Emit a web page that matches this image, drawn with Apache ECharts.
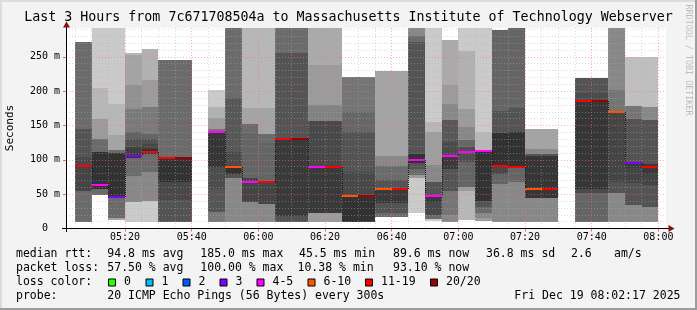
<!DOCTYPE html>
<html><head><meta charset="utf-8">
<script src="https://cdn.jsdelivr.net/npm/echarts@6/dist/echarts.min.js"></script>
<style>html,body{margin:0;padding:0;background:#f3f3f3}#c{width:697px;height:310px}</style>
</head><body><div id="c"></div>
<script>
// ---------- data ----------
const colEnd = ['05:10','05:15','05:20','05:25','05:30','05:35','05:40','05:45','05:50','05:55',
  '06:00','06:05','06:10','06:15','06:20','06:25','06:30','06:35','06:40','06:45',
  '06:50','06:55','07:00','07:05','07:10','07:15','07:20','07:25','07:30','07:35',
  '07:40','07:45','07:50','07:55','08:00'];
// smoke band boundaries per 5-min column (ms, bottom -> top)
const bounds = [
  [10,54,92,104,145,272],
  [49,58,112,131,160,204,300],
  [13,16,46,110,114,136,182,300],
  [10,38,77,103,106,118,131,140,174,209,252,256],
  [10,40,83,109,116,123,131,138,177,216,261],
  [10,41,68,104,246],
  [10,41,68,104,246],
  [],
  [10,24,58,90,141,145,161,177,202],
  [10,73,80,90,112,190,300],
  [10,39,74,139,152,175,300],
  [10,36,66,124,137,175,300],
  [10,18,130,255,300],
  [10,18,130,255,300],
  [10,22,89,156,180,238,300],
  [10,22,89,156,180,238,300],
  [10,48,82,141,170,221],
  [10,48,82,141,170,221],
  [17,22,37,58,71,91,105,230],
  [17,22,37,58,71,91,105,230],
  [22,73,78,86,95,109,272,281,300],
  [11,14,20,39,48,68,93,141,155,300],
  [10,20,55,87,106,126,158,182,209,274],
  [12,55,60,97,118,129,148,174,259,300],
  [11,16,22,31,40,114,141,300],
  [10,65,80,91,139,171,289],
  [10,68,89,140,175,300],
  [9,44,105,109,116,145],
  [9,44,105,109,116,145],
  [],
  [10,52,58,185,198,219],
  [10,52,58,185,198,219],
  [9,52,68,169,201,300],
  [10,34,66,88,96,159,179,250],
  [10,32,63,80,94,158,177,250]
];
// smoke rank of each band (1 = outermost pings, 10 = around the median)
const levels = [
  [7,9,8.8,8.2,7],
  [7,10,7,4.5,3,2],
  [4,7,10,7,4,3,2],
  [2,5.5,7,10,9.3,8.3,7.4,6.2,5,4,3],
  [2,5.5,7,10,9,8.3,7.3,6.2,4.5,3.3],
  [8.2,8.8,10,7],
  [8.2,8.8,10,7],
  [],
  [6.2,8.1,8.6,9.8,6.5,4.5,3.3,2],
  [5.5,8.2,10,8.7,8,7],
  [5.5,9,7.3,7,4,3],
  [5.5,9,7.3,7,4,3],
  [8.2,9.6,8.2,7],
  [8.2,9.6,8.2,7],
  [4.5,9.6,8.8,5.8,4.5,3.7],
  [4.5,9.6,8.8,5.8,4.5,3.7],
  [10,8.8,8.2,7.2,6.5],
  [10,8.8,8.2,7.2,6.5],
  [7,8.2,9.6,8.2,7,5.5,4],
  [7,8.2,9.6,8.2,7,5.5,4],
  [2,4.5,7,8.2,10,8.2,7,5.5],
  [2,7,8.8,9.6,8.2,5.5,4.3,3,2],
  [5.5,6.5,8.2,9.6,8.7,8,5.5,4.5,3.7],
  [3,4.5,7.3,8.5,7.2,5.5,4.5,3.3,2],
  [4.5,5.5,7,8.2,10,3,2],
  [5.5,7.3,8.8,10,8.2,7.3],
  [5.5,7.3,10,8.2,7.3],
  [5.5,9.8,8.2,5.5,4],
  [5.5,9.8,8.2,5.5,4],
  [],
  [7.3,8.7,9.8,8.7,8.2],
  [7.3,8.7,9.8,8.7,8.2],
  [5.5,8.2,9,6.5,5.5],
  [5.5,8.2,9,9.6,8.2,6.5,2.6],
  [5.5,8.2,9,9.6,8.2,5.5,2.6]
];
const median = [91.5,64,46,105.5,112,103,103,null,140,90,68,67,130,130,89,89,48,48,58,58,
  99.6,48,106,111,113,91.5,90.2,58,58,null,185,185,169,96,90.2];
const lossCat = [6,4,3,3,6,6,7,null,4,5,4,6,6,7,4,6,5,7,5,6,4,4,4,4,4,6,6,5,6,null,6,7,5,3,6];
const lossLabels = ['0','1','2','3','4-5','6-10','11-19','20/20'];
const xMajor = ['05:20','05:40','06:00','06:20','06:40','07:00','07:20','07:40','08:00'];
const yMajor = [0,50,100,150,200,250];
const rangeStart = '05:02:17', rangeEnd = '08:02:17';
const statsRtt = ['94.8 ms avg','185.0 ms max','45.5 ms min','89.6 ms now','36.8 ms sd','2.6','am/s'];
const statsLoss = ['57.50 % avg','100.00 % max','10.38 % min','93.10 % now'];
const probeText = '20 ICMP Echo Pings (56 Bytes) every 300s';
const stampText = 'Fri Dec 19 08:02:17 2025';
const titleText = 'Last 3 Hours from 7c671708504a to Massachusetts Institute of Technology Webserver';

// ---------- styles ----------
const lossColors = ['#26ff00','#00b8ff','#0059ff','#7e00ff','#ff00fe','#ff5500','#ff0000','#a10000'];
const MONO = '"DejaVu Sans Mono", monospace';
const GRID = 'rgba(175,175,175,0.45)';
const MGRID = 'rgba(255,110,110,0.55)';
const STEP = 5;

function toMin(s){ const p = s.split(':').map(Number); return p[0]*60 + p[1] + (p[2]||0)/60; }
function pad(n){ return (n<10?'0':'')+n; }
const tMin = toMin(rangeStart), tMax = toMin(rangeEnd);
const majorX = xMajor.map(toMin);
const minorX = [];
for (let v = Math.ceil(tMin/5)*5; v <= tMax; v += 5) if (majorX.indexOf(v) < 0) minorX.push(v);
const minorY = [];
for (let v = 10; v < 292; v += 10) if (v % 50) minorY.push(v);

const smokeData = [];
colEnd.forEach((t, k) => {
  const b = bounds[k], l = levels[k];
  for (let j = 0; j < l.length; j++) smokeData.push([toMin(t), b[j], b[j+1], l[j]]);
});
const medData = [];
colEnd.forEach((t, k) => {
  if (median[k] == null) return;
  medData.push([toMin(t), median[k], lossCat[k], k > 0 && median[k-1] != null ? median[k-1] : NaN]);
});

function renderSmoke(params, api){
  const t = api.value(0), lo = api.value(1), hi = api.value(2), lv = api.value(3);
  const a = api.coord([t - STEP, hi]), b = api.coord([t, lo]);
  const x0 = Math.round(a[0]), x1 = Math.round(b[0]);
  const y0 = Math.round(a[1]), y1 = Math.round(b[1]);
  const cs = params.coordSys;
  const r = echarts.graphic.clipRectByRect({x:x0, y:y0, width:x1-x0, height:y1-y0},
    {x:cs.x, y:cs.y, width:cs.width, height:cs.height});
  if (!r) return;
  const g = Math.round(19*(10-lv)+50);
  return {type:'rect', shape:r, style:{fill:'rgb('+g+','+g+','+g+')'}};
}
function renderMedian(params, api){
  const t = api.value(0), m = api.value(1), c = api.value(2), pm = api.value(3);
  const a = api.coord([t - STEP, m]), b = api.coord([t, m]);
  const x0 = Math.round(a[0]), x1 = Math.round(b[0]), yc = Math.round(a[1]);
  const children = [];
  if (!isNaN(pm)) {
    const yp = Math.round(api.coord([t - STEP, pm])[1]);
    children.push({type:'line', shape:{x1:x0+0.5, y1:Math.min(yp,yc), x2:x0+0.5, y2:Math.max(yp,yc)},
      style:{stroke:'#1a1a1a', lineWidth:1, lineDash:[1,1]}});
  }
  children.push({type:'rect', shape:{x:x0, y:yc-1, width:x1-x0, height:2}, style:{fill:lossColors[c]}});
  return {type:'group', children};
}

// ---------- decorations ----------
const graphics = [];
function txt(x, y, s, opt){
  graphics.push(Object.assign({type:'text', x:x, y:y, z:10, style:Object.assign({text:s, fill:'#000',
    font:'11.5px ' + MONO, verticalAlign:'middle', align:'left'}, (opt||{}).style||{})}, opt && opt.rotation!=null ? {rotation:opt.rotation} : {}));
}
// frame
graphics.push({type:'rect', z:1, shape:{x:0, y:0, width:697, height:2}, style:{fill:'#dcdcdc'}});
graphics.push({type:'rect', z:1, shape:{x:0, y:0, width:2, height:310}, style:{fill:'#dcdcdc'}});
graphics.push({type:'rect', z:1, shape:{x:0, y:308, width:697, height:2}, style:{fill:'#9c9c9c'}});
graphics.push({type:'rect', z:1, shape:{x:695, y:0, width:2, height:310}, style:{fill:'#9c9c9c'}});
// title
txt(348.5, 18, titleText, {style:{font:'13.3px ' + MONO, align:'center'}});
// vertical credit
txt(688, 60, 'RRDTOOL / TOBI OETIKER', {rotation:-Math.PI/2, style:{font:'8.4px ' + MONO, align:'center', fill:'#bdbdbd'}});
// y name
txt(10.5, 128, 'Seconds', {rotation:Math.PI/2, style:{font:'11px ' + MONO, align:'center'}});
// axis arrows and extensions
graphics.push({type:'line', z:10, shape:{x1:62, y1:228.5, x2:669, y2:228.5}, style:{stroke:'#000', lineWidth:1}});
graphics.push({type:'line', z:10, shape:{x1:66.5, y1:232, x2:66.5, y2:26}, style:{stroke:'#000', lineWidth:1}});
graphics.push({type:'polygon', z:11, shape:{points:[[66.5,21.5],[63,27.5],[70,27.5]]}, style:{fill:'#8b1010'}});
graphics.push({type:'polygon', z:11, shape:{points:[[674.5,228.5],[668.5,225],[668.5,232]]}, style:{fill:'#8b1010'}});
// legend rows
const rowY = [254.3, 268.3, 282.3, 296.3];
txt(16, rowY[0], 'median rtt:');
[107.3, 200.3, 299, 393, 486, 571, 614].forEach((x, i) => txt(x, rowY[0], statsRtt[i]));
txt(16, rowY[1], 'packet loss:');
[107.3, 200.3, 297.5, 393].forEach((x, i) => txt(x, rowY[1], statsLoss[i]));
txt(16, rowY[2], 'loss color:');
[108, 145.5, 182.5, 219.5, 256.5, 307.5, 365, 430].forEach((x, i) => {
  graphics.push({type:'rect', z:10, shape:{x:x+0.5, y:279, width:7, height:7}, style:{fill:lossColors[i], stroke:'#000', lineWidth:1}});
  txt(x + 16, rowY[2], lossLabels[i]);
});
txt(16, rowY[3], 'probe:');
txt(107.3, rowY[3], probeText);
txt(680.5, rowY[3], stampText, {style:{align:'right'}});

const chart = echarts.init(document.getElementById('c'), null, {renderer:'canvas'});
chart.setOption({
  animation:false,
  backgroundColor:'#f3f3f3',
  grid:{left:66, top:28, width:600, height:200.5, show:true, backgroundColor:'#ffffff', borderWidth:0},
  xAxis:[
    {type:'value', min:tMin, max:tMax, position:'bottom', z:3,
      axisLine:{show:false},
      axisTick:{show:true, customValues:majorX, length:3, lineStyle:{color:'rgba(255,60,60,0.8)'}},
      axisLabel:{customValues:majorX, margin:4, fontFamily:MONO, fontSize:10, color:'#000',
        formatter:v => pad(Math.floor(v/60)) + ':' + pad(Math.round(v%60))},
      splitLine:{show:true, lineStyle:{color:MGRID, type:[1,2], width:1}}},
    {type:'value', min:tMin, max:tMax, position:'bottom', z:2,
      axisLine:{show:false}, axisTick:{show:false, customValues:minorX}, axisLabel:{show:false},
      splitLine:{show:true, lineStyle:{color:GRID, type:[1,2], width:1}}}
  ],
  yAxis:[
    {type:'value', min:0, max:292, position:'left', z:3,
      axisLine:{show:false},
      axisTick:{show:true, customValues:yMajor, length:3, lineStyle:{color:'rgba(255,60,60,0.8)'}},
      axisLabel:{customValues:yMajor, margin:6, fontFamily:MONO, fontSize:10, color:'#000',
        formatter:v => v === 0 ? '0  ' : v + ' m'},
      splitLine:{show:true, lineStyle:{color:MGRID, type:[1,2], width:1}}},
    {type:'value', min:0, max:292, position:'left', z:2,
      axisLine:{show:false}, axisTick:{show:false, customValues:minorY}, axisLabel:{show:false},
      splitLine:{show:true, lineStyle:{color:GRID, type:[1,2], width:1}}}
  ],
  series:[
    {type:'custom', name:'smoke', z:1, xAxisIndex:0, yAxisIndex:0, data:smokeData,
      encode:{x:0, y:[1,2]}, renderItem:renderSmoke, silent:true},
    {type:'custom', name:'median', z:5, xAxisIndex:0, yAxisIndex:0, data:medData,
      encode:{x:0, y:1}, renderItem:renderMedian, silent:true}
  ],
  graphic:graphics
});
</script></body></html>
